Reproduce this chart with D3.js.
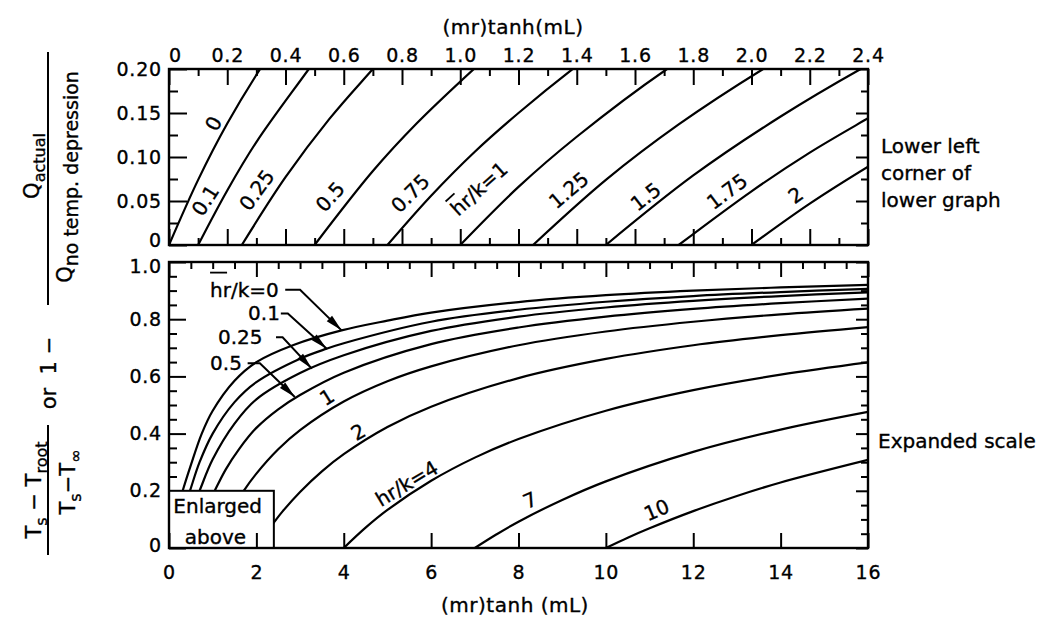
<!DOCTYPE html>
<html>
<head>
<meta charset="utf-8">
<title>Root temperature depression</title>
<script src="https://cdn.jsdelivr.net/npm/d3@7/dist/d3.min.js"></script>
<style>
  body { margin: 0; background: #fff; }
  svg text { font-family: 'DejaVu Sans', 'Liberation Sans', Arial, sans-serif; fill: #000; stroke: #000; stroke-width: 0.35px; }
  .tick-label { font-size: 19px; letter-spacing: 0.8px; }
  .curve-label { font-size: 20px; }
  .note { font-size: 20px; }
  .title { font-size: 20px; letter-spacing: 0.5px; }
  .ytitle { font-size: 21px; white-space: pre; }
</style>
</head>
<body>
<svg id="chart" width="1049" height="621"></svg>
<script>
// curves, [(mr)tanh(mL), y] for each hr/k
const hrk0 = [[0, 0], [0.1, 0.074], [0.2, 0.138], [0.313, 0.2], [0.5, 0.29], [0.75, 0.4], [1, 0.48], [1.5, 0.585], [2, 0.65], [2.85, 0.71], [3.95, 0.761], [5, 0.795], [6, 0.823], [8, 0.86], [10, 0.884], [12, 0.9], [14, 0.911], [16, 0.92]]
const hrk01 = [[0.1, 0], [0.2, 0.062], [0.3, 0.117], [0.48, 0.2], [0.7, 0.3], [1, 0.4], [1.5, 0.51], [2, 0.58], [3, 0.662], [3.61, 0.697], [4, 0.716], [6, 0.791], [8, 0.833], [10, 0.861], [12, 0.881], [14, 0.895], [16, 0.906]]
const hrk025 = [[0.25, 0], [0.4, 0.077], [0.55, 0.143], [0.7, 0.2], [1, 0.31], [1.5, 0.435], [2, 0.52], [3, 0.612], [4, 0.674], [6, 0.759], [8, 0.809], [10, 0.841], [12, 0.864], [14, 0.881], [16, 0.894]]
const hrk05 = [[0.5, 0], [0.7, 0.084], [0.85, 0.138], [1.05, 0.201], [1.3, 0.275], [1.6, 0.345], [2, 0.42], [2.5, 0.485], [3, 0.535], [4, 0.613], [6, 0.713], [8, 0.771], [10, 0.809], [12, 0.836], [14, 0.856], [16, 0.872]]
const hrk075 = [[0.75, 0], [0.9, 0.056], [1.05, 0.106], [1.2, 0.15], [1.39, 0.201], [1.5, 0.228]]
const hrk1 = [[1, 0], [1.2, 0.066], [1.4, 0.123], [1.71, 0.2], [2, 0.26], [2.5, 0.345], [3, 0.412], [4, 0.512], [5, 0.583], [6, 0.635], [8, 0.709], [10, 0.757], [12, 0.791], [14, 0.817], [16, 0.837]]
const hrk125 = [[1.25, 0], [1.5, 0.074], [1.75, 0.137], [2.04, 0.2], [2.3, 0.25]]
const hrk15 = [[1.5, 0], [1.8, 0.079], [2.1, 0.146], [2.375, 0.2], [2.5, 0.222]]
const hrk175 = [[1.75, 0], [2, 0.061], [2.2, 0.105], [2.4, 0.144], [2.5, 0.163]]
const hrk2 = [[2, 0], [2.2, 0.047], [2.4, 0.089], [2.6, 0.128], [3, 0.196], [3.5, 0.268], [4, 0.328], [5, 0.423], [6, 0.494], [8, 0.594], [10, 0.661], [12, 0.709], [14, 0.744], [16, 0.772]]
const hrk4 = [[4, 0], [4.5, 0.071], [5, 0.133], [6, 0.235], [7, 0.316], [8, 0.381], [10, 0.48], [12, 0.552], [14, 0.606], [16, 0.649]]
const hrk7 = [[7, 0], [7.5, 0.048], [8, 0.092], [9, 0.168], [10, 0.233], [12, 0.336], [14, 0.414], [16, 0.476]]
const hrk10 = [[10, 0], [10.5, 0.036], [11, 0.069], [12, 0.129], [13, 0.182], [14, 0.229], [16, 0.308]]

const upperCurves = [hrk0, hrk01, hrk025, hrk05, hrk075, hrk1, hrk125, hrk15, hrk175, hrk2]
const lowerCurves = [hrk0, hrk01, hrk025, hrk05, hrk1, hrk2, hrk4, hrk7, hrk10]

// tick values and labels
const topXMajor = [0, 0.2, 0.4, 0.6, 0.8, 1.0, 1.2, 1.4, 1.6, 1.8, 2.0, 2.2, 2.4]
const topXLabels = ['0', '0.2', '0.4', '0.6', '0.8', '1.0', '1.2', '1.4', '1.6', '1.8', '2.0', '2.2', '2.4']
const topYMajor = [0, 0.05, 0.1, 0.15, 0.2]
const topYLabels = ['0', '0.05', '0.10', '0.15', '0.20']
const lowXMajor = [0, 2, 4, 6, 8, 10, 12, 14, 16]
const lowXLabels = ['0', '2', '4', '6', '8', '10', '12', '14', '16']
const lowYMajor = [0, 0.2, 0.4, 0.6, 0.8, 1.0]
const lowYLabels = ['0', '0.2', '0.4', '0.6', '0.8', '1.0']

// curve labels: [text, x, y, rotation]
const upperLabels = [
  ['0', 0.152, 0.138, -62],
  ['0.1', 0.124, 0.051, -57],
  ['0.25', 0.301, 0.0625, -54],
  ['0.5', 0.553, 0.055, -48],
  ['0.75', 0.828, 0.059, -45],
  ['1.25', 1.372, 0.0625, -40],
  ['1.5', 1.636, 0.055, -38],
  ['1.75', 1.916, 0.061, -37],
  ['2', 2.151, 0.057, -35]
]
const lowerLabels = [
  ['1', 3.61, 0.528, -32],
  ['2', 4.33, 0.406, -30],
  ['hr/k=4', 5.44, 0.226, -31],
  ['7', 8.26, 0.168, -25],
  ['10', 11.16, 0.133, -23]
]
const arrowLabels = [
  { text: 'hr/k=0', x: 0.94, y: 0.879, bar: true, path: [[2.66, 0.903], [3.0, 0.903], [3.95, 0.761]] },
  { text: '0.1', x: 1.81, y: 0.796, path: [[2.56, 0.82], [2.72, 0.82], [3.61, 0.697]] },
  { text: '0.25', x: 1.12, y: 0.712, path: [[2.45, 0.737], [2.6, 0.737], [3.27, 0.627]] },
  { text: '0.5', x: 0.94, y: 0.622, path: [[1.8, 0.646], [2.08, 0.646], [2.88, 0.528]] }
]

const svg = d3.select('#chart')

const xTop = d3.scaleLinear().domain([0, 2.4]).range([169, 868])
const yTop = d3.scaleLinear().domain([0, 0.2]).range([245, 69])
const xLow = d3.scaleLinear().domain([0, 16]).range([169, 868])
const yLow = d3.scaleLinear().domain([0, 1]).range([548, 262])

const defs = svg.append('defs')
defs.append('clipPath').attr('id', 'clip-top').append('rect')
  .attr('x', xTop(0)).attr('y', yTop(0.2))
  .attr('width', xTop(2.4) - xTop(0)).attr('height', yTop(0) - yTop(0.2))
defs.append('clipPath').attr('id', 'clip-low').append('rect')
  .attr('x', xLow(0)).attr('y', yLow(1))
  .attr('width', xLow(16) - xLow(0)).attr('height', yLow(0) - yLow(1))

const lineTop = d3.line().x(d => xTop(d[0])).y(d => yTop(d[1])).curve(d3.curveCatmullRom.alpha(0.5))
const lineLow = d3.line().x(d => xLow(d[0])).y(d => yLow(d[1])).curve(d3.curveCatmullRom.alpha(0.5))

svg.append('g').attr('clip-path', 'url(#clip-top)')
  .selectAll('path').data(upperCurves).join('path')
  .attr('d', lineTop).attr('fill', 'none').attr('stroke', '#000').attr('stroke-width', 2.2)

svg.append('g').attr('clip-path', 'url(#clip-low)')
  .selectAll('path').data(lowerCurves).join('path')
  .attr('d', lineLow).attr('fill', 'none').attr('stroke', '#000').attr('stroke-width', 2.2)

// inward ticks
function ticks (axisGen, scale, at, values, size, labels, pad) {
  const axis = axisGen(scale).tickValues(values).tickSize(-size)
    .tickPadding(pad || 7)
    .tickFormat((d, i) => labels ? labels[i] : '')
  const g = svg.append('g').attr('transform', at).call(axis)
  g.attr('font-family', null).attr('font-size', null)
  g.select('.domain').remove()
  g.selectAll('.tick line').attr('stroke', '#000').attr('stroke-width', 2)
  g.selectAll('.tick text').attr('class', 'tick-label').attr('fill', '#000')
  return g
}

const minorOf = (a, b, step, major) => d3.range(a, b + step / 2, step)
  .filter(v => !major.some(m => Math.abs(m - v) < 1e-6))

// upper graph
const topAxis = ticks(d3.axisTop, xTop, `translate(0,${yTop(0.2)})`, topXMajor, 16, topXLabels, 7)
topAxis.selectAll('.tick text').filter(d => d === 0).attr('dx', 6)
ticks(d3.axisTop, xTop, `translate(0,${yTop(0.2)})`, minorOf(0, 2.4, 0.1, topXMajor), 7)
ticks(d3.axisBottom, xTop, `translate(0,${yTop(0)})`, topXMajor, 16)
ticks(d3.axisBottom, xTop, `translate(0,${yTop(0)})`, minorOf(0, 2.4, 0.1, topXMajor), 7)
const topLeft = ticks(d3.axisLeft, yTop, `translate(${xTop(0)},0)`, topYMajor, 18, topYLabels, 7)
topLeft.selectAll('.tick text').filter(d => d === 0).attr('y', -5)
ticks(d3.axisLeft, yTop, `translate(${xTop(0)},0)`, minorOf(0, 0.2, 0.025, topYMajor), 9)
ticks(d3.axisRight, yTop, `translate(${xTop(2.4)},0)`, topYMajor, 12)
ticks(d3.axisRight, yTop, `translate(${xTop(2.4)},0)`, minorOf(0, 0.2, 0.025, topYMajor), 7)

// lower graph
ticks(d3.axisTop, xLow, `translate(0,${yLow(1)})`, lowXMajor, 15)
ticks(d3.axisTop, xLow, `translate(0,${yLow(1)})`, minorOf(0, 16, 0.5, lowXMajor), 7)
const lowLeft = ticks(d3.axisLeft, yLow, `translate(${xLow(0)},0)`, lowYMajor, 17, lowYLabels, 7)
lowLeft.selectAll('.tick text').filter(d => d === 1).attr('y', 4)
lowLeft.selectAll('.tick text').filter(d => d === 0).attr('y', -3)
ticks(d3.axisLeft, yLow, `translate(${xLow(0)},0)`, minorOf(0, 1, 0.05, lowYMajor), 8)
ticks(d3.axisRight, yLow, `translate(${xLow(16)},0)`, lowYMajor, 12)
ticks(d3.axisRight, yLow, `translate(${xLow(16)},0)`, minorOf(0, 1, 0.05, lowYMajor), 7)

// "Enlarged above" box over the lower left corner
svg.append('rect')
  .attr('x', xLow(0)).attr('y', yLow(0.2))
  .attr('width', xLow(2.4) - xLow(0)).attr('height', yLow(0) - yLow(0.2))
  .attr('fill', '#fff').attr('stroke', '#000').attr('stroke-width', 2)
svg.append('text').attr('class', 'note')
  .attr('x', xLow(0.1)).attr('y', yLow(0.122)).text('Enlarged')
svg.append('text').attr('class', 'note')
  .attr('x', xLow(0.36)).attr('y', yLow(0.014)).text('above')

ticks(d3.axisBottom, xLow, `translate(0,${yLow(0)})`, lowXMajor, 15, lowXLabels, 18)

// frames
svg.append('rect')
  .attr('x', xTop(0)).attr('y', yTop(0.2))
  .attr('width', xTop(2.4) - xTop(0)).attr('height', yTop(0) - yTop(0.2))
  .attr('fill', 'none').attr('stroke', '#000').attr('stroke-width', 2.4)
svg.append('rect')
  .attr('x', xLow(0)).attr('y', yLow(1))
  .attr('width', xLow(16) - xLow(0)).attr('height', yLow(0) - yLow(1))
  .attr('fill', 'none').attr('stroke', '#000').attr('stroke-width', 2.4)

// curve labels
function rotLabel (text, px, py, rot) {
  svg.append('text').attr('class', 'curve-label')
    .attr('transform', `translate(${px},${py}) rotate(${rot})`)
    .attr('text-anchor', 'middle').attr('dy', '0.36em')
    .text(text)
}
upperLabels.forEach(d => rotLabel(d[0], xTop(d[1]), yTop(d[2]), d[3]))
lowerLabels.forEach(d => rotLabel(d[0], xLow(d[1]), yLow(d[2]), d[3]))

// hr/k=1 in the upper graph, with the bar over h
const g1 = svg.append('g')
  .attr('transform', `translate(${xTop(0.993)},${yTop(0.0318)}) rotate(-42)`)
g1.append('text').attr('class', 'curve-label').text('hr/k=1')
g1.append('line').attr('x1', 1).attr('x2', 13).attr('y1', -20).attr('y2', -20)
  .attr('stroke', '#000').attr('stroke-width', 1.8)

// arrow labels in the lower graph
arrowLabels.forEach(d => {
  const tx = xLow(d.x)
  const ty = yLow(d.y)
  svg.append('text').attr('class', 'curve-label').attr('x', tx).attr('y', ty).text(d.text)
  if (d.bar) {
    svg.append('line').attr('x1', tx).attr('x2', tx + 17).attr('y1', ty - 24).attr('y2', ty - 24)
      .attr('stroke', '#000').attr('stroke-width', 1.8)
  }
  const pts = d.path.map(p => [xLow(p[0]), yLow(p[1])])
  svg.append('path').attr('d', d3.line()(pts))
    .attr('fill', 'none').attr('stroke', '#000').attr('stroke-width', 2)
  const [a, b] = pts.slice(-2)
  const len = Math.hypot(b[0] - a[0], b[1] - a[1])
  const ux = (b[0] - a[0]) / len
  const uy = (b[1] - a[1]) / len
  const bx = b[0] - ux * 17
  const by = b[1] - uy * 17
  svg.append('path')
    .attr('d', `M${b[0]},${b[1]}L${bx - uy * 3.8},${by + ux * 3.8}L${bx + uy * 3.8},${by - ux * 3.8}Z`)
    .attr('fill', '#000')
})

// axis titles
svg.append('text').attr('class', 'title').attr('text-anchor', 'middle')
  .attr('x', 513).attr('y', 34).text('(mr)tanh(mL)')
svg.append('text').attr('class', 'title').attr('text-anchor', 'middle')
  .attr('x', 515).attr('y', 612).text('(mr)tanh (mL)')

// notes on the right
const notes = svg.append('g').attr('class', 'note')
notes.append('text').attr('x', 881).attr('y', 153).text('Lower left')
notes.append('text').attr('x', 881).attr('y', 180).text('corner of')
notes.append('text').attr('x', 881).attr('y', 207).text('lower graph')
notes.append('text').attr('x', 878).attr('y', 448).text('Expanded scale')

// rotated y title
const yt = svg.append('g').attr('transform', 'rotate(-90)')
function sub (t, s) {
  t.append('tspan').attr('font-size', 16).attr('dy', 6).text(s)
}
const n1 = yt.append('text').attr('class', 'ytitle').attr('text-anchor', 'middle').attr('x', -490).attr('y', 41)
n1.append('tspan').text('T')
sub(n1, 's')
n1.append('tspan').attr('dy', -6).text(' − T')
sub(n1, 'root')
const d1 = yt.append('text').attr('class', 'ytitle').attr('text-anchor', 'middle').attr('x', -482).attr('y', 75)
d1.append('tspan').text('T')
sub(d1, 's')
d1.append('tspan').attr('dy', -6).text('−T')
sub(d1, '∞')
yt.append('line').attr('x1', -425).attr('x2', -555).attr('y1', 48).attr('y2', 48)
  .attr('stroke', '#000').attr('stroke-width', 2)

yt.append('text').attr('class', 'ytitle').attr('text-anchor', 'middle')
  .attr('x', -373).attr('y', 56).text('or  1 −')

const n2 = yt.append('text').attr('class', 'ytitle').attr('text-anchor', 'middle').attr('x', -166).attr('y', 39)
n2.append('tspan').text('Q')
sub(n2, 'actual')
const d2 = yt.append('text').attr('class', 'ytitle').attr('text-anchor', 'middle').attr('x', -177).attr('y', 72)
d2.append('tspan').text('Q')
d2.append('tspan').attr('font-size', 19).attr('dy', 6).text('no temp. depression')
yt.append('line').attr('x1', -52).attr('x2', -305).attr('y1', 48).attr('y2', 48)
  .attr('stroke', '#000').attr('stroke-width', 2)
</script>
</body>
</html>
